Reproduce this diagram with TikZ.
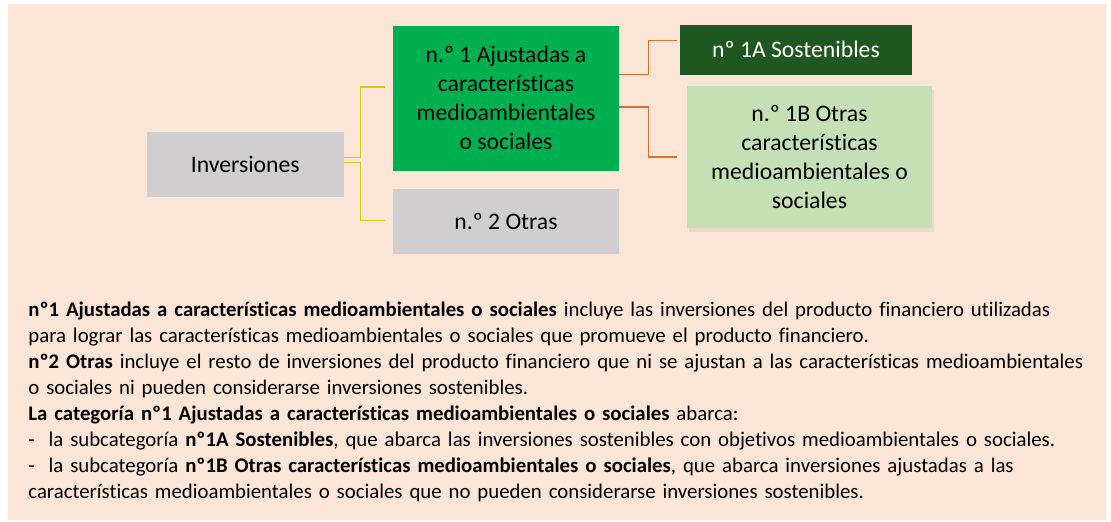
\documentclass[tikz,border=0pt]{standalone}
\usepackage{fontspec}
\setmainfont[Ligatures=NoCommon]{Carlito}
\usetikzlibrary{shadows}
\definecolor{peach}{HTML}{FBE5D6}
\definecolor{boxgray}{HTML}{D0CECE}
\definecolor{midgreen}{HTML}{00B050}
\definecolor{darkgreen}{RGB}{30,88,32}
\definecolor{palegreen}{HTML}{C5E0B4}
\definecolor{linkorange}{RGB}{214,112,48}
\definecolor{linkyellow}{RGB}{212,200,20}
\newcommand{\jline}[1]{\makebox[524.5pt][s]{#1}}

\begin{document}
\begin{tikzpicture}[x=0.5pt,y=-0.5pt,
    box/.style={inner sep=0pt,align=center,font=\fontsize{11.85}{14.5}\selectfont},
    yellink/.style={draw=linkyellow,line width=0.75pt},
    orlink/.style={draw=linkorange,line width=0.75pt}]
  \useasboundingbox (0,0) rectangle (1111,521);
  \fill[peach] (8,4) rectangle (1106,520);

  % tree of categories
  \node[box,fill=boxgray,minimum width=98.7pt,minimum height=32.4pt] (inv) at (245.3,164.3) {Inversiones};
  \node[box,fill=midgreen,minimum width=113pt,minimum height=72.4pt] (n1) at (506,98.3)
    {n.º 1 Ajustadas a\\características\\medioambientales\\o sociales};
  \node[box,fill=boxgray,minimum width=113pt,minimum height=32.4pt] (n2) at (506,221.3) {n.º 2 Otras};
  \node[box,fill=darkgreen,text=white,minimum width=116pt,minimum height=24.9pt] (s1a) at (796,49.8) {nº 1A Sostenibles};
  \node[box,fill=palegreen,minimum width=122.5pt,minimum height=71pt,
    drop shadow={opacity=0.12,shadow xshift=1.2pt,shadow yshift=-2pt}] (s1b) at (809.5,157)
    {n.º 1B Otras\\características\\medioambientales o\\sociales};

  \draw[yellink] ([yshift=3.3pt]inv.east) -- ++(16,0) |- ([xshift=-4pt,yshift=5.65pt]n1.west);
  \draw[yellink] ([yshift=0.8pt]inv.east) -- ++(16,0) |- ([xshift=-4pt,yshift=0.3pt]n2.west);
  \draw[orlink] ([yshift=12pt]n1.east) -- ++(29,0) |- ([xshift=-1.5pt,yshift=4.55pt]s1a.west);
  \draw[orlink] ([yshift=-4.35pt]n1.east) -- ++(29,0) |- ([xshift=-5pt]s1b.west);

  % explanation
  \node[anchor=base west,inner sep=0pt,text width=545pt,align=left,
    font=\fontsize{10.4}{13.05}\selectfont] (txt) at (28,316) {%
    \jline{\textbf{nº1 Ajustadas a características medioambientales o sociales} incluye las inversiones del producto financiero utilizadas}\\
    para lograr las características medioambientales o sociales que promueve el producto financiero.\\
    \jline{\textbf{nº2 Otras} incluye el resto de inversiones del producto financiero que ni se ajustan a las características medioambientales}\\
    o sociales ni pueden considerarse inversiones sostenibles.\\
    \textbf{La categoría nº1 Ajustadas a características medioambientales o sociales} abarca:\\
    -\ \ la subcategoría \textbf{nº1A Sostenibles}, que abarca las inversiones sostenibles con objetivos medioambientales o sociales.\\
    -\ \ la subcategoría \textbf{nº1B Otras características medioambientales o sociales}, que abarca inversiones ajustadas a las\\
    características medioambientales o sociales que no pueden considerarse inversiones sostenibles.};
\end{tikzpicture}
\end{document}
